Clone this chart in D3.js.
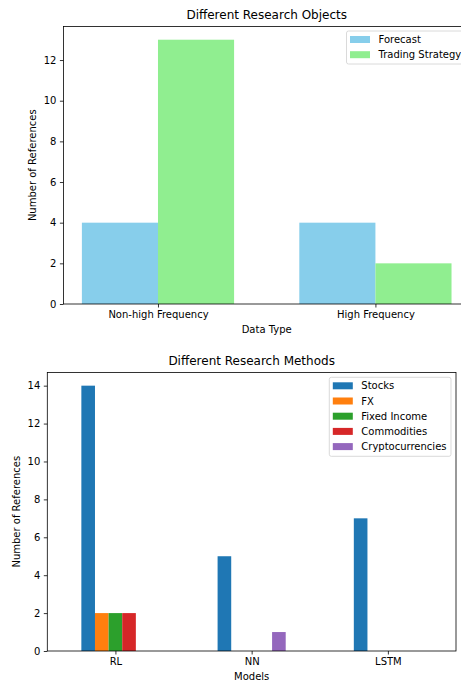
<!DOCTYPE html>
<html>
<head>
<meta charset="utf-8">
<script src="https://cdn.jsdelivr.net/npm/d3@7"></script>
<style>
  body { margin: 0; background: #fff; }
  svg { display: block; font-family: "DejaVu Sans", sans-serif; }
  .tick text { font-size: 10px; fill: #000; font-family: "DejaVu Sans", sans-serif; }
  .tick line { stroke: #000; stroke-width: 0.8; }
</style>
</head>
<body>
<svg id="chart" width="461" height="683"></svg>
<script>
// top chart data
const dataTypes = ["Non-high Frequency", "High Frequency"];
const objectSeries = ["Forecast", "Trading Strategy"];
const forecastValues = [4, 4];
const tradingValues = [13, 2];
const objectColors = ["#87ceeb", "#90ee90"];

// bottom chart data
const models = ["RL", "NN", "LSTM"];
const marketSeries = ["Stocks", "FX", "Fixed Income", "Commodities", "Cryptocurrencies"];
const stocksValues = [14, 5, 7];
const fxValues = [2, 0, 0];
const fixedIncomeValues = [2, 0, 0];
const commoditiesValues = [2, 0, 0];
const cryptoValues = [0, 1, 0];
const marketColors = ["#1f77b4", "#ff7f0e", "#2ca02c", "#d62728", "#9467bd"];

const svg = d3.select("#chart");

// draws one axes block like matplotlib does
const drawPanel = (opt) => {
  const g = svg.append("g");
  const x = d3.scaleLinear().domain(opt.xDomain).range([opt.left, opt.right]);
  const y = d3.scaleLinear().domain(opt.yDomain).range([opt.bottom, opt.top]);

  opt.series.forEach((vals, s) => {
    g.selectAll(null)
      .data(vals)
      .enter()
      .append("rect")
      .attr("x", (d, i) => x(i + opt.offset(s)))
      .attr("width", x(opt.barWidth) - x(0))
      .attr("y", (d) => y(d))
      .attr("height", (d) => y(0) - y(d))
      .attr("fill", opt.colors[s]);
  });

  // spines
  g.append("rect")
    .attr("x", opt.left)
    .attr("y", opt.top)
    .attr("width", opt.right - opt.left)
    .attr("height", opt.bottom - opt.top)
    .attr("fill", "none")
    .attr("stroke", "#000")
    .attr("stroke-width", 0.8);

  const yAxis = g.append("g")
    .attr("transform", `translate(${opt.left},0)`)
    .call(d3.axisLeft(y).tickValues(opt.yTicks).tickSize(3.5).tickSizeOuter(0).tickPadding(3.5).tickFormat(d3.format("d")));
  yAxis.select(".domain").remove();
  yAxis.attr("font-family", "DejaVu Sans").attr("font-size", 10);

  const xAxis = g.append("g")
    .attr("transform", `translate(0,${opt.bottom})`)
    .call(d3.axisBottom(x).tickValues(d3.range(opt.categories.length)).tickSize(3.5).tickSizeOuter(0).tickPadding(3.5).tickFormat((d) => opt.categories[d]));
  xAxis.select(".domain").remove();
  xAxis.attr("font-family", "DejaVu Sans").attr("font-size", 10);

  const cx = (opt.left + opt.right) / 2;
  g.append("text")
    .attr("x", cx)
    .attr("y", opt.top - 7.5)
    .attr("text-anchor", "middle")
    .attr("font-size", 12)
    .text(opt.title);

  g.append("text")
    .attr("x", cx)
    .attr("y", opt.bottom + 29)
    .attr("text-anchor", "middle")
    .attr("font-size", 10)
    .text(opt.xLabel);

  g.append("text")
    .attr("transform", `translate(${opt.yLabelX},${(opt.top + opt.bottom) / 2}) rotate(-90)`)
    .attr("text-anchor", "middle")
    .attr("font-size", 10)
    .text(opt.yLabel);

  // legend
  const lg = g.append("g").attr("transform", `translate(${opt.legend.x},${opt.legend.y})`);
  lg.append("rect")
    .attr("width", opt.legend.w)
    .attr("height", opt.legend.h)
    .attr("rx", 2)
    .attr("fill", "#fff")
    .attr("fill-opacity", 0.8)
    .attr("stroke", "#d0d0d0")
    .attr("stroke-width", 0.8);
  opt.names.forEach((name, i) => {
    const cy = 8.5 + i * 15.2;
    lg.append("rect")
      .attr("x", 3.5)
      .attr("y", cy - 3.5)
      .attr("width", 20)
      .attr("height", 7)
      .attr("fill", opt.colors[i]);
    lg.append("text")
      .attr("x", 32)
      .attr("y", cy + 3.6)
      .attr("font-size", 10)
      .text(name);
  });
};

drawPanel({
  left: 63.4, right: 470, top: 26.5, bottom: 304,
  xDomain: [-0.435, 1.435], yDomain: [0, 13.65],
  yTicks: [0, 2, 4, 6, 8, 10, 12],
  categories: dataTypes,
  series: [forecastValues, tradingValues],
  colors: objectColors,
  names: objectSeries,
  barWidth: 0.35,
  offset: (s) => (s === 0 ? -0.35 : 0),
  title: "Different Research Objects",
  xLabel: "Data Type",
  yLabel: "Number of References",
  yLabelX: 36,
  legend: { x: 346.5, y: 31, w: 125, h: 33 }
});

drawPanel({
  left: 47.3, right: 456, top: 372.4, bottom: 651,
  xDomain: [-0.5, 2.5], yDomain: [0, 14.7],
  yTicks: [0, 2, 4, 6, 8, 10, 12, 14],
  categories: models,
  series: [stocksValues, fxValues, fixedIncomeValues, commoditiesValues, cryptoValues],
  colors: marketColors,
  names: marketSeries,
  barWidth: 0.1,
  offset: (s) => -0.25 + s * 0.1,
  title: "Different Research Methods",
  xLabel: "Models",
  yLabel: "Number of References",
  yLabelX: 20,
  legend: { x: 329.3, y: 377.3, w: 121.7, h: 79 }
});
</script>
</body>
</html>
